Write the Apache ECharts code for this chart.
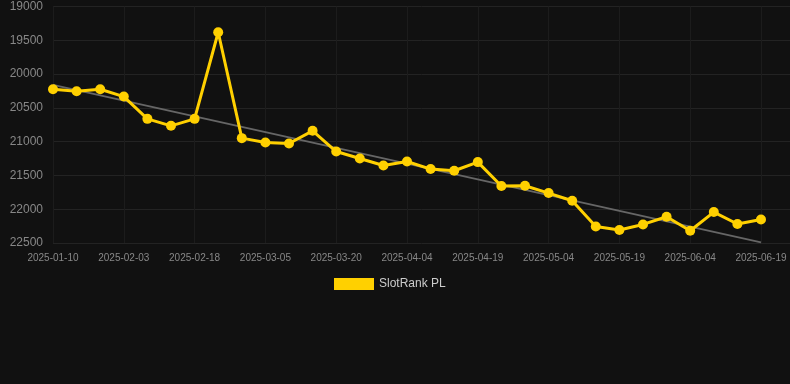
<!DOCTYPE html>
<html>
<head>
<meta charset="utf-8">
<script src="https://cdn.jsdelivr.net/npm/echarts@6/dist/echarts.min.js"></script>
<style>
html,body{margin:0;padding:0;background:#111111;}
#c{width:790px;height:384px;}
</style>
</head>
<body>
<div id="c"></div>
<script>
const categories = ['2025-01-10','2025-01-18','2025-01-26','2025-02-03','2025-02-08','2025-02-13','2025-02-18','2025-02-23','2025-02-28','2025-03-05','2025-03-10','2025-03-15','2025-03-20','2025-03-25','2025-03-30','2025-04-04','2025-04-09','2025-04-14','2025-04-19','2025-04-24','2025-04-29','2025-05-04','2025-05-09','2025-05-14','2025-05-19','2025-05-24','2025-05-29','2025-06-04','2025-06-09','2025-06-14','2025-06-19'];
const rankValues = [20224,20253,20224,20333,20663,20766,20663,19381,20948,21013,21028,20840,21146,21250,21353,21294,21406,21431,21303,21657,21653,21761,21875,22255,22308,22225,22111,22318,22042,22219,22151];
const trendStartEnd = [20160, 22491];
const yTicks = [19000, 22500, 500];

const chart = echarts.init(document.getElementById('c'));
const font = 'Liberation Sans, Arial, sans-serif';
const lastIdx = categories.length - 1;
chart.setOption({
  backgroundColor: '#111111',
  animation: false,
  grid: {left: 53, right: 0, top: 6.5, bottom: 141},
  legend: {
    data: ['SlotRank PL'],
    top: 273, left: 329,
    itemWidth: 40, itemHeight: 12, itemGap: 10,
    icon: 'rect',
    textStyle: {color: '#cccccc', fontSize: 12, fontFamily: font}
  },
  xAxis: {
    type: 'value',
    min: 0,
    max: lastIdx + 29 / 23.6,
    interval: 3,
    axisLine: {show: false},
    axisTick: {show: false},
    axisLabel: {
      color: '#888888', fontSize: 10, fontFamily: font, margin: 10,
      showMaxLabel: false,
      formatter: v => (Number.isInteger(v) && categories[v]) ? categories[v] : ''
    },
    splitLine: {show: true, lineStyle: {color: '#1c1c1c', width: 1}}
  },
  yAxis: {
    type: 'value',
    inverse: true,
    min: yTicks[0], max: yTicks[1], interval: yTicks[2],
    axisLine: {show: false},
    axisTick: {show: false},
    axisLabel: {color: '#888888', fontSize: 12, fontFamily: font, margin: 10, formatter: v => String(v)},
    splitLine: {show: true, lineStyle: {color: '#232323', width: 1}}
  },
  series: [
    {
      name: 'Trend',
      type: 'line',
      data: [[0, trendStartEnd[0]], [lastIdx, trendStartEnd[1]]],
      showSymbol: false,
      symbol: 'none',
      lineStyle: {color: '#666666', width: 2},
      z: 1,
      silent: true
    },
    {
      name: 'SlotRank PL',
      type: 'line',
      data: rankValues.map((v, i) => [i, v]),
      symbol: 'circle',
      symbolSize: 10,
      itemStyle: {color: '#FFD000'},
      lineStyle: {color: '#FFD000', width: 3},
      z: 2
    }
  ]
});
</script>
</body>
</html>
